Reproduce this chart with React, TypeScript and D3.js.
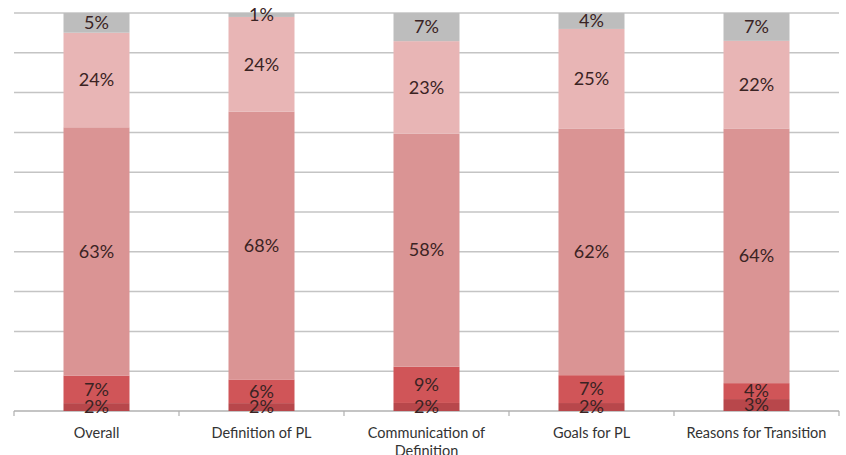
import React from "react";
import * as d3 from "d3";

const categories = ["Overall", "Definition of PL", "Communication of Definition", "Goals for PL", "Reasons for Transition"];
const categoryLines = [["Overall"], ["Definition of PL"], ["Communication of", "Definition"], ["Goals for PL"], ["Reasons for Transition"]];
const seriesKeys = ["s1", "s2", "s3", "s4", "s5"];
const s1 = [2, 2, 2, 2, 3];
const s2 = [7, 6, 9, 7, 4];
const s3 = [63, 68, 58, 62, 64];
const s4 = [24, 24, 23, 25, 22];
const s5 = [5, 1, 7, 4, 7];
const seriesValues = [s1, s2, s3, s4, s5];
const colors = ["#b8474b", "#d05558", "#da9494", "#e8b5b5", "#bdbdbd"];
const gridTicks = [0.1, 0.2, 0.3, 0.4, 0.5, 0.6, 0.7, 0.8, 0.9, 1.0];

export default function App() {
  const W = 846, H = 455;
  const x0 = 14, x1 = 839, yTop = 13, yBase = 411;
  const rows = categories.map((c, i) => {
    const r: any = { cat: c };
    seriesKeys.forEach((k, j) => (r[k] = seriesValues[j][i]));
    return r;
  });
  const stack = d3.stack().keys(seriesKeys).offset(d3.stackOffsetExpand);
  const layers = stack(rows as any);
  const x = d3.scaleBand().domain(categories).range([x0, x1]).paddingInner(0).paddingOuter(0);
  const y = d3.scaleLinear().domain([0, 1]).range([yBase, yTop]);
  const bw = x.bandwidth() * 0.4;
  const font = "Lato, 'Open Sans', sans-serif";
  return (
    <svg width={W} height={H} style={{ position: "absolute", left: 0, top: 0, background: "#fff" }}>
      {gridTicks.map((t) => (
        <line key={t} x1={x0} x2={x1} y1={y(t)} y2={y(t)} stroke="#c4c4c4" strokeWidth={1.5} />
      ))}
      <line x1={x0} x2={x1} y1={y(0)} y2={y(0)} stroke="#b0b0b0" strokeWidth={1.5} />
      {d3.range(categories.length + 1).map((i) => {
        const xx = x0 + i * x.step();
        return <line key={i} x1={xx} x2={xx} y1={yBase} y2={yBase + 5} stroke="#b0b0b0" strokeWidth={1.2} />;
      })}
      {layers.map((layer, li) => (
        <g key={li}>
          {layer.map((d: any, i: number) => {
            const cx = (x(categories[i]) as number) + x.bandwidth() / 2;
            return (
              <rect key={i} x={cx - bw / 2} width={bw} y={y(d[1])} height={y(d[0]) - y(d[1])} fill={colors[li]} />
            );
          })}
        </g>
      ))}
      {layers.map((layer, li) => (
        <g key={"t" + li}>
          {layer.map((d: any, i: number) => {
            const cx = (x(categories[i]) as number) + x.bandwidth() / 2;
            const cy = (y(d[0]) + y(d[1])) / 2;
            return (
              <text key={i} x={cx} y={cy} dy="0.35em" textAnchor="middle" fontFamily={font} fontSize={18} fill="#3a2323">
                {seriesValues[li][i]}%
              </text>
            );
          })}
        </g>
      ))}
      {categoryLines.map((lines, i) => {
        const cx = (x(categories[i]) as number) + x.bandwidth() / 2;
        return (
          <text key={i} x={cx} y={438} textAnchor="middle" fontFamily={font} fontSize={14.5} fill="#333">
            {lines.map((l, k) => (
              <tspan key={k} x={cx} dy={k === 0 ? 0 : 18}>{l}</tspan>
            ))}
          </text>
        );
      })}
    </svg>
  );
}
